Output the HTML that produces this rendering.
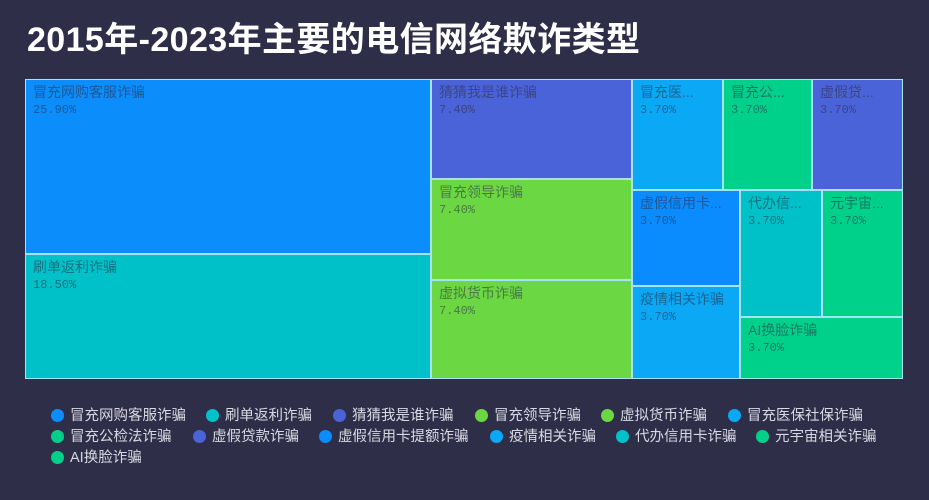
<!DOCTYPE html>
<html>
<head>
<meta charset="utf-8">
<style>
html,body{margin:0;padding:0;}
body{width:929px;height:500px;background:#2f2e49;position:relative;overflow:hidden;font-family:"Liberation Sans","Noto Sans CJK SC",sans-serif;}
.title{position:absolute;left:27px;top:18px;font-size:34px;font-weight:bold;color:#fff;line-height:44px;white-space:nowrap;letter-spacing:0.4px;}
.tm{position:absolute;left:25px;top:79px;width:878px;height:300px;background:#a6e4f5;}
.b{position:absolute;overflow:hidden;}
.l1{position:absolute;left:7px;top:4px;font-size:14px;line-height:16px;color:rgba(45,45,70,0.55);white-space:nowrap;}
.l2{position:absolute;left:7px;top:23px;font-size:12px;line-height:14px;color:rgba(45,45,70,0.55);font-family:"Liberation Mono",monospace;white-space:nowrap;}
.lg{position:absolute;font-size:14.5px;color:#d9d9e3;white-space:nowrap;line-height:18px;}
.dot{position:absolute;width:13px;height:13px;border-radius:50%;}
</style>
</head>
<body>
<div class="title">2015年-2023年主要的电信网络欺诈类型</div>

<div class="tm">
  <div class="b" style="left:1px;top:1px;width:404px;height:173px;background:#0b8dfc;">
    <div class="l1">冒充网购客服诈骗</div><div class="l2">25.90%</div></div>
  <div class="b" style="left:1px;top:176px;width:404px;height:123px;background:#00c1c8;">
    <div class="l1">刷单返利诈骗</div><div class="l2">18.50%</div></div>
  <div class="b" style="left:407px;top:1px;width:199px;height:98px;background:#4a63d8;">
    <div class="l1">猜猜我是谁诈骗</div><div class="l2">7.40%</div></div>
  <div class="b" style="left:407px;top:101px;width:199px;height:99px;background:#6ad743;">
    <div class="l1">冒充领导诈骗</div><div class="l2">7.40%</div></div>
  <div class="b" style="left:407px;top:202px;width:199px;height:97px;background:#6ad743;">
    <div class="l1">虚拟货币诈骗</div><div class="l2">7.40%</div></div>
  <div class="b" style="left:608px;top:1px;width:89px;height:109px;background:#0aa8f5;">
    <div class="l1">冒充医...</div><div class="l2">3.70%</div></div>
  <div class="b" style="left:699px;top:1px;width:87px;height:109px;background:#00d18a;">
    <div class="l1">冒充公...</div><div class="l2">3.70%</div></div>
  <div class="b" style="left:788px;top:1px;width:89px;height:109px;background:#4a63d8;">
    <div class="l1">虚假贷...</div><div class="l2">3.70%</div></div>
  <div class="b" style="left:608px;top:112px;width:106px;height:94px;background:#0a8cff;">
    <div class="l1">虚假信用卡...</div><div class="l2">3.70%</div></div>
  <div class="b" style="left:608px;top:208px;width:106px;height:91px;background:#0aa8f5;">
    <div class="l1">疫情相关诈骗</div><div class="l2">3.70%</div></div>
  <div class="b" style="left:716px;top:112px;width:80px;height:125px;background:#00c1c8;">
    <div class="l1">代办信...</div><div class="l2">3.70%</div></div>
  <div class="b" style="left:798px;top:112px;width:79px;height:125px;background:#00d18a;">
    <div class="l1">元宇宙...</div><div class="l2">3.70%</div></div>
  <div class="b" style="left:716px;top:239px;width:161px;height:60px;background:#00d18a;">
    <div class="l1">AI换脸诈骗</div><div class="l2">3.70%</div></div>
</div>

<div class="dot" style="left:51px;top:409px;background:#0b8dfc;"></div><div class="lg" style="left:70px;top:407px;">冒充网购客服诈骗</div>
<div class="dot" style="left:206px;top:409px;background:#00c1c8;"></div><div class="lg" style="left:225px;top:407px;">刷单返利诈骗</div>
<div class="dot" style="left:333px;top:409px;background:#4a63d8;"></div><div class="lg" style="left:352px;top:407px;">猜猜我是谁诈骗</div>
<div class="dot" style="left:475px;top:409px;background:#6ad743;"></div><div class="lg" style="left:494px;top:407px;">冒充领导诈骗</div>
<div class="dot" style="left:601px;top:409px;background:#6ad743;"></div><div class="lg" style="left:620px;top:407px;">虚拟货币诈骗</div>
<div class="dot" style="left:728px;top:409px;background:#0aa8f5;"></div><div class="lg" style="left:747px;top:407px;">冒充医保社保诈骗</div>

<div class="dot" style="left:51px;top:430px;background:#00d18a;"></div><div class="lg" style="left:70px;top:428px;">冒充公检法诈骗</div>
<div class="dot" style="left:193px;top:430px;background:#4a63d8;"></div><div class="lg" style="left:212px;top:428px;">虚假贷款诈骗</div>
<div class="dot" style="left:319px;top:430px;background:#0a8cff;"></div><div class="lg" style="left:338px;top:428px;">虚假信用卡提额诈骗</div>
<div class="dot" style="left:490px;top:430px;background:#0aa8f5;"></div><div class="lg" style="left:509px;top:428px;">疫情相关诈骗</div>
<div class="dot" style="left:616px;top:430px;background:#00c1c8;"></div><div class="lg" style="left:635px;top:428px;">代办信用卡诈骗</div>
<div class="dot" style="left:756px;top:430px;background:#00d18a;"></div><div class="lg" style="left:775px;top:428px;">元宇宙相关诈骗</div>

<div class="dot" style="left:51px;top:451px;background:#00d18a;"></div><div class="lg" style="left:70px;top:449px;">AI换脸诈骗</div>
</body>
</html>
